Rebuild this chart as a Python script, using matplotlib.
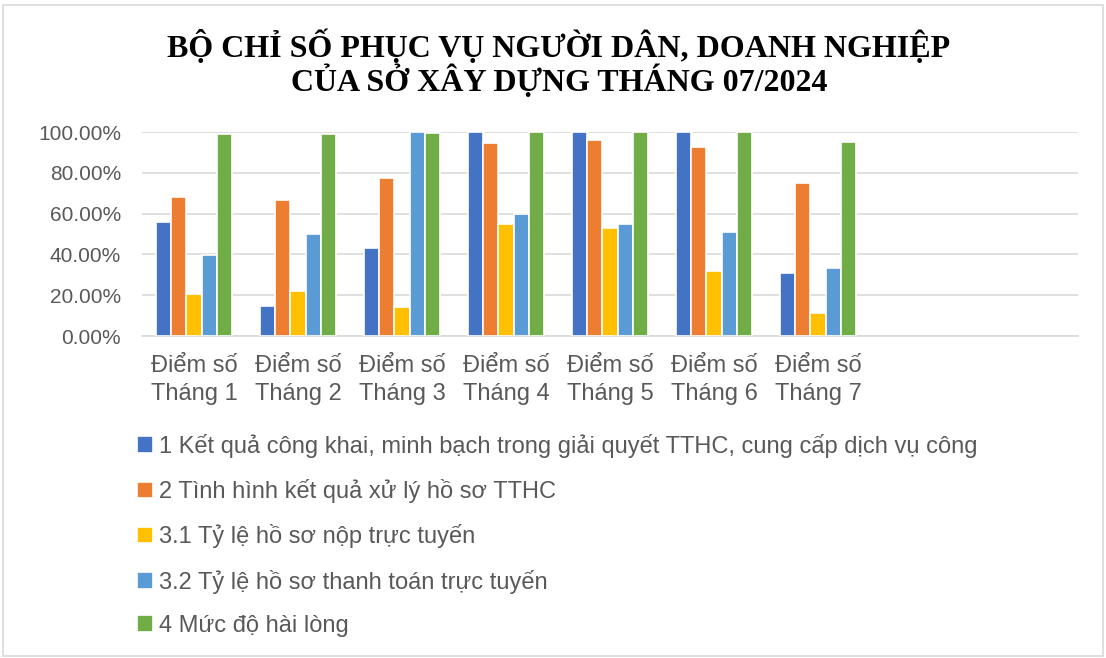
import numpy as np
import matplotlib
matplotlib.use("Agg")
import matplotlib.pyplot as plt
from matplotlib.patches import Rectangle

# du lieu doc tu hinh (ty le, 0..1)
thang = ["Điểm số\nTháng 1", "Điểm số\nTháng 2", "Điểm số\nTháng 3", "Điểm số\nTháng 4",
         "Điểm số\nTháng 5", "Điểm số\nTháng 6", "Điểm số\nTháng 7", "", ""]
ten_chi_so = [
    "1 Kết quả công khai, minh bạch trong giải quyết TTHC, cung cấp dịch vụ công",
    "2 Tình hình kết quả xử lý hồ sơ TTHC",
    "3.1 Tỷ lệ hồ sơ nộp trực tuyến",
    "3.2 Tỷ lệ hồ sơ thanh toán trực tuyến",
    "4 Mức độ hài lòng",
]
cs1 = [0.558, 0.149, 0.429, 1.0, 1.0, 1.0, 0.308]
cs2 = [0.681, 0.668, 0.774, 0.948, 0.961, 0.926, 0.751]
cs31 = [0.206, 0.221, 0.141, 0.550, 0.527, 0.319, 0.113]
cs32 = [0.399, 0.498, 1.0, 0.597, 0.547, 0.512, 0.331]
cs4 = [0.992, 0.992, 0.997, 1.0, 1.0, 1.0, 0.953]
mau = ["#4472C4", "#ED7D31", "#FFC000", "#5B9BD5", "#70AD47"]

chu = "#595959"
plt.rcParams["font.family"] = ["Liberation Sans", "DejaVu Sans"]

fig = plt.figure(figsize=(11.06, 6.58), dpi=100)
fig.patches.append(Rectangle((0.003, 0.003), 0.994, 0.99, transform=fig.transFigure,
                             fill=False, edgecolor="#d9d9d9", linewidth=1.2))

ax = fig.add_axes([142 / 1106, 1 - 336 / 658, 936 / 1106, 204 / 658])
x = np.arange(len(thang))
buoc = 0.145
for i, (ds, m, ten) in enumerate(zip([cs1, cs2, cs31, cs32, cs4], mau, ten_chi_so)):
    ax.bar(np.arange(len(ds)) + (i - 2) * buoc, ds, width=buoc, color=m,
           edgecolor="white", linewidth=1.2, label=ten, zorder=3)

ax.set_xlim(-0.5, len(thang) - 0.5)
ax.set_ylim(0, 1)
ax.set_yticks(np.arange(0, 1.01, 0.2))
ax.set_yticklabels([f"{v * 100:.2f}%" for v in np.arange(0, 1.01, 0.2)], fontsize=15, color=chu)
ax.set_xticks(x)
ax.set_xticklabels(thang, fontsize=17, color=chu, linespacing=1.3)
ax.tick_params(axis="x", length=0, pad=14)
ax.tick_params(axis="y", length=0, pad=15)
ax.yaxis.grid(True, color="#d9d9d9", linewidth=1.2, zorder=0)
ax.set_axisbelow(True)
for s in ["top", "right", "left"]:
    ax.spines[s].set_visible(False)
ax.spines["bottom"].set_color("#d9d9d9")
ax.spines["bottom"].set_linewidth(1.2)

fig.text(559 / 1106, 1 - 47 / 658, "BỘ CHỈ SỐ PHỤC VỤ NGƯỜI DÂN, DOANH NGHIỆP",
         ha="center", va="center", fontsize=23, fontweight="bold",
         family=["Liberation Serif", "DejaVu Serif"], color="black")
fig.text(559 / 1106, 1 - 81 / 658, "CỦA SỞ XÂY DỰNG THÁNG 07/2024",
         ha="center", va="center", fontsize=23, fontweight="bold",
         family=["Liberation Serif", "DejaVu Serif"], color="black")

leg = fig.legend(loc="upper left", bbox_to_anchor=(125 / 1106, 1 - 422 / 658), ncol=1,
                 frameon=False, fontsize=17, handlelength=0.7, handleheight=0.7,
                 handletextpad=0.22, labelspacing=0.9, labelcolor=chu, borderpad=0)

fig.savefig("out.png", dpi=100)
